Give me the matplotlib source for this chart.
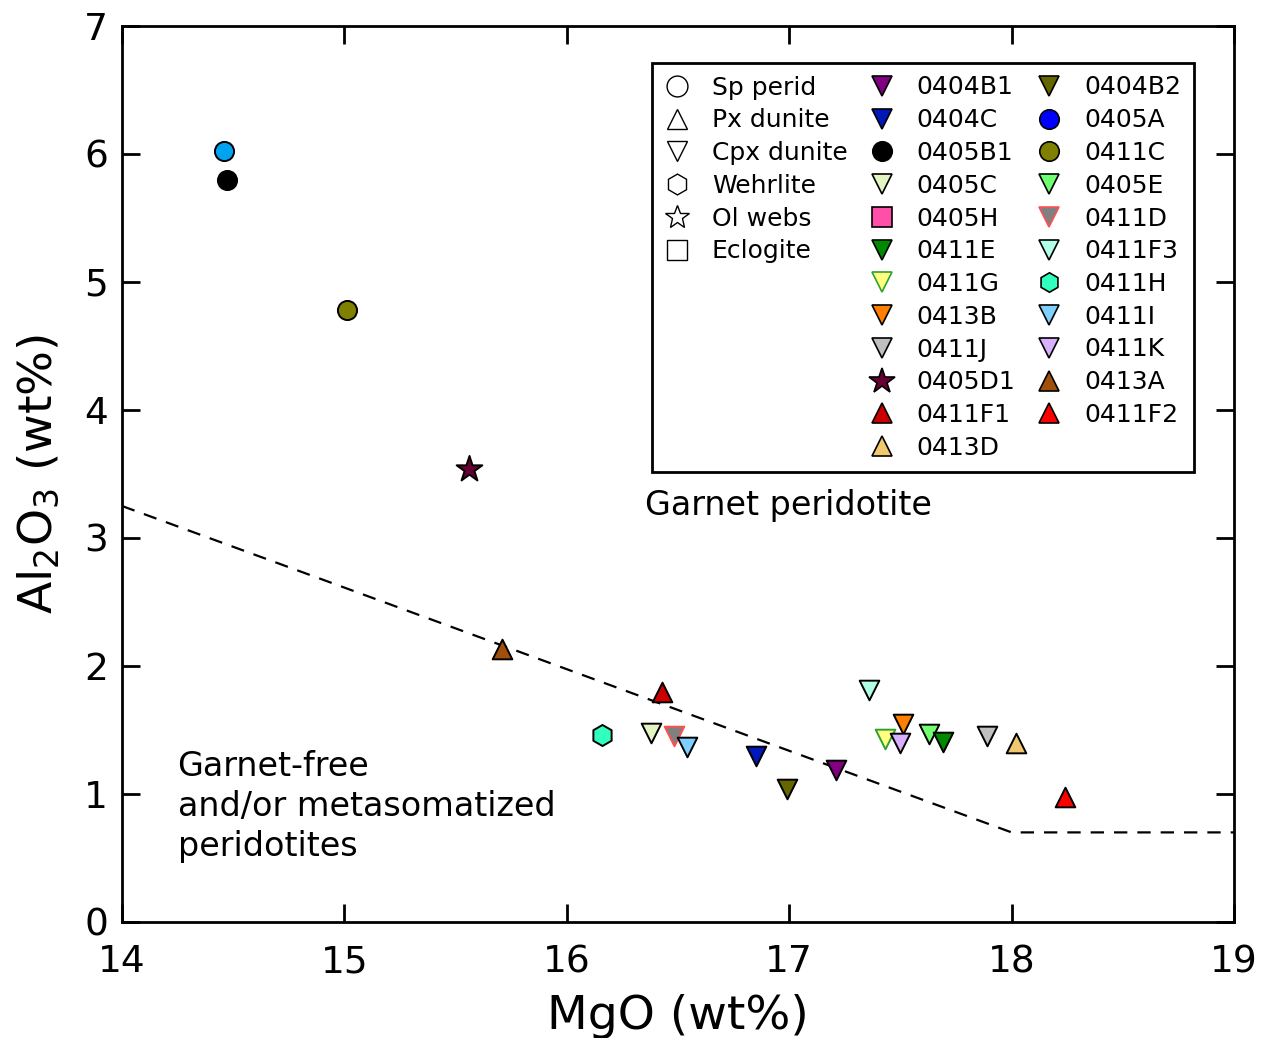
import matplotlib
matplotlib.use("Agg")
from matplotlib import pyplot as plt
from matplotlib.lines import Line2D

plt.rcParams['font.family'] = ['DejaVu Sans']

# легенда: типы пород (открытые маркеры)
rock_types = ["Sp perid", "Px dunite", "Cpx dunite", "Wehrlite", "Ol webs", "Eclogite"]
rock_markers = ["o", "^", "v", "h", "*", "s"]

# легенда: образцы (столбцы 2 и 3)
samples = ["0404B1", "0404C", "0405B1", "0405C", "0405H", "0411E", "0411G", "0413B",
           "0411J", "0405D1", "0411F1", "0413D",
           "0404B2", "0405A", "0411C", "0405E", "0411D", "0411F3", "0411H", "0411I",
           "0411K", "0413A", "0411F2"]
sample_markers = ["v", "v", "o", "v", "s", "v", "v", "v", "v", "*", "^", "^",
                  "v", "o", "o", "v", "v", "v", "h", "v", "v", "^", "^"]
sample_colors = ["#800080", "#0018B8", "#000000", "#E2F5C2", "#FF4FA8", "#008A00",
                 "#FFFF80", "#FF8000", "#C0C0C0", "#660033", "#CC0000", "#F0C870",
                 "#666600", "#0000FF", "#808000", "#70FF70", "#808080", "#B0FFE6",
                 "#30FFC0", "#80D0FF", "#D8B0FF", "#A0500A", "#FF0000"]
sample_edges = {"0411D": "#FF5050", "0411G": "#30A030"}

# точки на графике: образец, MgO, Al2O3
pt_sample = ["0405A", "0405B1", "0411C", "0405D1", "0413A", "0411F1", "0411H", "0405C",
             "0411D", "0411I", "0404C", "0404B2", "0404B1", "0411F3", "0413B", "0411G",
             "0411K", "0405E", "0411E", "0411J", "0413D", "0411F2"]
pt_mgo = [14.46, 14.47, 15.01, 15.56, 15.71, 16.43, 16.16, 16.38,
          16.48, 16.54, 16.85, 16.99, 17.21, 17.36, 17.51, 17.43,
          17.50, 17.63, 17.69, 17.89, 18.02, 18.24]
pt_al2o3 = [6.02, 5.80, 4.78, 3.54, 2.13, 1.80, 1.46, 1.48,
            1.45, 1.37, 1.30, 1.04, 1.19, 1.81, 1.55, 1.43,
            1.40, 1.47, 1.41, 1.45, 1.40, 0.98]
plot_color_override = {"0405A": "#00A2F2"}

# граница гранатовых перидотитов
line_x = [14, 18, 19]
line_y = [3.25, 0.70, 0.70]

fig = plt.figure(figsize=(12.7, 10.38), dpi=100)
ax = fig.add_axes([122 / 1270, 1 - 922 / 1038, 1112 / 1270, 896 / 1038])

ax.plot(line_x, line_y, ls=(0, (6, 4.5)), color="black", lw=1.6, zorder=1)

sizes = {"o": 190, "^": 200, "v": 200, "h": 230, "*": 380, "s": 170}
for s, x, y in zip(pt_sample, pt_mgo, pt_al2o3):
    i = samples.index(s)
    m = sample_markers[i]
    c = plot_color_override.get(s, sample_colors[i])
    ec = sample_edges.get(s, "black")
    ax.scatter([x], [y], marker=m, s=sizes[m], c=c, edgecolors=ec, linewidths=1.4, zorder=3)

ax.set_xlim(14, 19)
ax.set_ylim(0, 7)
ax.set_xticks(range(14, 20))
ax.set_yticks(range(0, 8))
ax.tick_params(direction="in", length=13, width=2, labelsize=27, pad=10,
               top=True, right=True)
ax.tick_params(axis="x", pad=16)
for sp in ax.spines.values():
    sp.set_linewidth(2)

ax.set_xlabel("MgO (wt%)", fontsize=34, labelpad=10)
ax.set_ylabel("Al$_2$O$_3$ (wt%)", fontsize=34, labelpad=16)

ax.text(16.35, 3.25, "Garnet peridotite", fontsize=24, va="center", ha="left")
ax.text(14.25, 0.90, "Garnet-free\nand/or metasomatized\nperidotites", fontsize=24,
        va="center", ha="left", linespacing=1.27)

# легенда
handles, labels = [], []
blank = Line2D([], [], ls="", marker=None)
for r, m in zip(rock_types, rock_markers):
    handles.append(Line2D([], [], ls="", marker=m, markersize=15 if m != "*" else 18,
                          mfc="white", mec="black", mew=1))
    labels.append(r)
for _ in range(6):
    handles.append(blank)
    labels.append("")
for s, m, c in zip(samples, sample_markers, sample_colors):
    handles.append(Line2D([], [], ls="", marker=m, markersize=14 if m != "*" else 19,
                          mfc=c, mec=sample_edges.get(s, "black"), mew=1.2))
    labels.append(s)
handles.append(blank)
labels.append("")

leg = ax.legend(handles, labels, ncol=3, loc="upper left",
                bbox_to_anchor=((652 - 122) / 1112, (922 - 63) / 896),
                borderaxespad=0, fontsize=18, handlelength=1.0, handletextpad=0.9,
                columnspacing=0.85, labelspacing=0.35, borderpad=0.5,
                fancybox=False, frameon=True, edgecolor="black", framealpha=1)
leg.get_frame().set_linewidth(2)

fig.savefig("out.png", dpi=100)
